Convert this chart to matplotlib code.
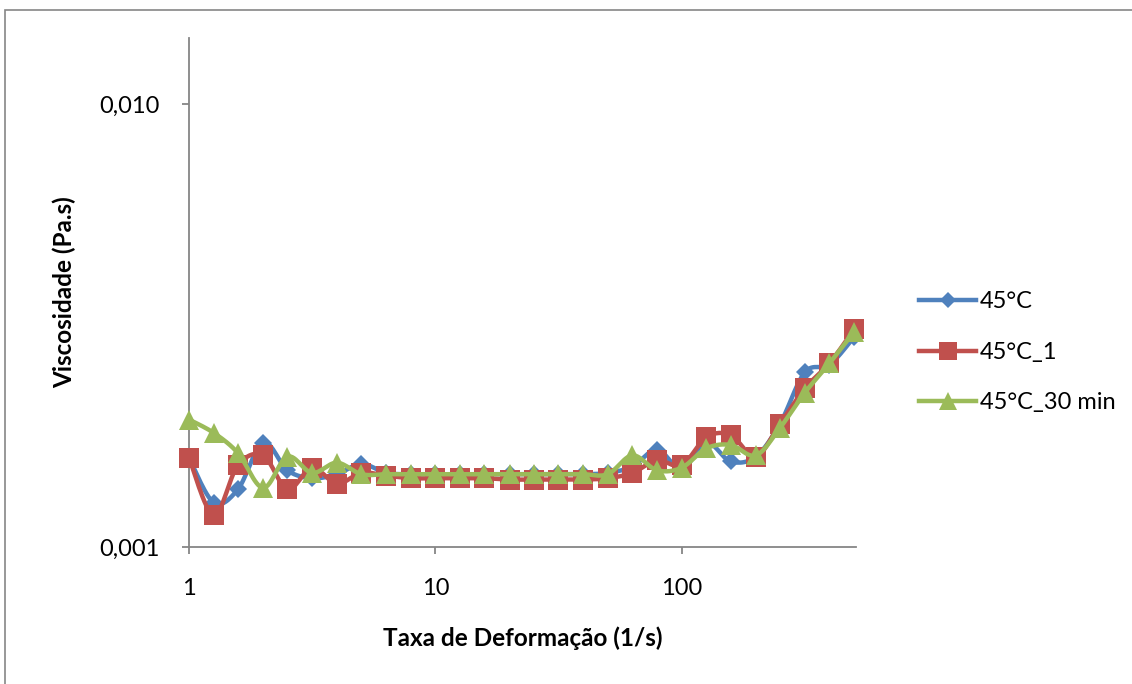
import numpy as np
from matplotlib import pyplot as plt
from matplotlib.lines import Line2D
from matplotlib.patches import Rectangle
from matplotlib.ticker import FixedLocator, NullLocator

plt.rcParams["font.family"] = ["Lato", "DejaVu Sans"]

shear_rate = [1, 1.26, 1.58, 2, 2.51, 3.16, 3.98, 5.01, 6.31, 7.94,
              10, 12.6, 15.8, 20, 25.1, 31.6, 39.8, 50.1, 63.1, 79.4,
              100, 126, 158, 200, 251, 316, 398, 501]

visc_45 = [0.00159, 0.00126, 0.00135, 0.00172, 0.00149, 0.00143, 0.00146, 0.00154,
           0.00147, 0.00146, 0.00146, 0.00146, 0.00146, 0.00146, 0.00146, 0.00146,
           0.00146, 0.00147, 0.00152, 0.00166, 0.00150, 0.00172, 0.00156, 0.00160,
           0.00190, 0.00248, 0.00258, 0.00298]

visc_45_1 = [0.00159, 0.00118, 0.00153, 0.00161, 0.00135, 0.00151, 0.00139, 0.00147,
             0.00145, 0.00143, 0.00143, 0.00143, 0.00143, 0.00142, 0.00142, 0.00142,
             0.00142, 0.00143, 0.00147, 0.00157, 0.00153, 0.00177, 0.00179, 0.00160,
             0.00190, 0.00228, 0.00260, 0.00310]

visc_45_30 = [0.00194, 0.00181, 0.00163, 0.00136, 0.00160, 0.00147, 0.00155, 0.00146,
              0.00146, 0.00146, 0.00146, 0.00146, 0.00146, 0.00146, 0.00146, 0.00146,
              0.00146, 0.00146, 0.00161, 0.00149, 0.00151, 0.00167, 0.00170, 0.00161,
              0.00186, 0.00223, 0.00260, 0.00306]

labels = ["45°C", "45°C_1", "45°C_30 min"]
colors = ["#4F81BD", "#C0504D", "#9BBB59"]
markers = ["D", "s", "^"]
msizes = [9.5, 14, 15]

AXIS_GRAY = "#868686"


def smooth_line(x, y, n=16):
    # Catmull-Rom through the points in log-log space (like Excel's smoothed line)
    px = np.log10(np.asarray(x, float))
    py = np.log10(np.asarray(y, float))
    pts = np.column_stack([px, py])
    pts = np.vstack([pts[0], pts, pts[-1]])
    out = []
    t = np.linspace(0, 1, n)[:, None]
    for i in range(1, len(pts) - 2):
        p0, p1, p2, p3 = pts[i - 1], pts[i], pts[i + 1], pts[i + 2]
        seg = 0.5 * ((2 * p1) + (-p0 + p2) * t
                     + (2 * p0 - 5 * p1 + 4 * p2 - p3) * t ** 2
                     + (-p0 + 3 * p1 - 3 * p2 + p3) * t ** 3)
        out.append(seg if i == 1 else seg[1:])
    out = np.vstack(out)
    return 10 ** out[:, 0], 10 ** out[:, 1]


fig = plt.figure(figsize=(11.32, 6.84), dpi=100)
ax = fig.add_axes([189 / 1132, 1 - 547 / 684, (856 - 189) / 1132, (547 - 38) / 684])

series = [visc_45, visc_45_1, visc_45_30]
handles = []
for i, (vals, lab, col, mk, ms) in enumerate(zip(series, labels, colors, markers, msizes)):
    sx, sy = smooth_line(shear_rate, vals)
    ax.plot(sx, sy, color=col, lw=3.2, zorder=3 + 2 * i, solid_capstyle="round")
    ax.plot(shear_rate, vals, ls="none", marker=mk, ms=ms, color=col,
            markeredgewidth=0, zorder=4 + 2 * i, clip_on=False)
    handles.append(Line2D([], [], color=col, lw=3.2, marker=mk, ms=ms * 0.9,
                          markeredgewidth=0))

ax.set_xscale("log")
ax.set_yscale("log")
ax.set_xlim(1, 510)
ax.set_ylim(0.001, 0.0141)

ax.xaxis.set_major_locator(FixedLocator([1, 10, 100]))
ax.xaxis.set_minor_locator(NullLocator())
ax.set_xticklabels(["1", "10", "100"])
ax.yaxis.set_major_locator(FixedLocator([0.001, 0.01]))
ax.yaxis.set_minor_locator(NullLocator())
ax.set_yticklabels(["0,001", "0,010"])

for side in ["top", "right"]:
    ax.spines[side].set_visible(False)
for side in ["left", "bottom"]:
    ax.spines[side].set_color(AXIS_GRAY)
    ax.spines[side].set_linewidth(1.3)

ax.tick_params(axis="x", direction="out", length=5, width=1.3, color=AXIS_GRAY,
               labelsize=17, pad=17)
ax.tick_params(axis="y", direction="out", length=5, width=1.3, color=AXIS_GRAY,
               labelsize=17, pad=16)

ax.set_xlabel("Taxa de Deformação (1/s)", fontsize=17.5, fontweight="bold", labelpad=20)
ax.set_ylabel("Viscosidade (Pa.s)", fontsize=17.5, fontweight="bold", labelpad=17)

fig.legend(handles, labels, loc="upper left", bbox_to_anchor=(910 / 1132, 1 - 282 / 684),
           frameon=False, fontsize=17, handlelength=2.4, handletextpad=0.15,
           labelspacing=1.25, borderaxespad=0)

fig.add_artist(Rectangle((5 / 1132, -0.1), 1.2, 1 - 10 / 684 + 0.1,
                         transform=fig.transFigure, fill=False,
                         edgecolor=AXIS_GRAY, lw=1.2))

fig.savefig("out.png", dpi=100)
